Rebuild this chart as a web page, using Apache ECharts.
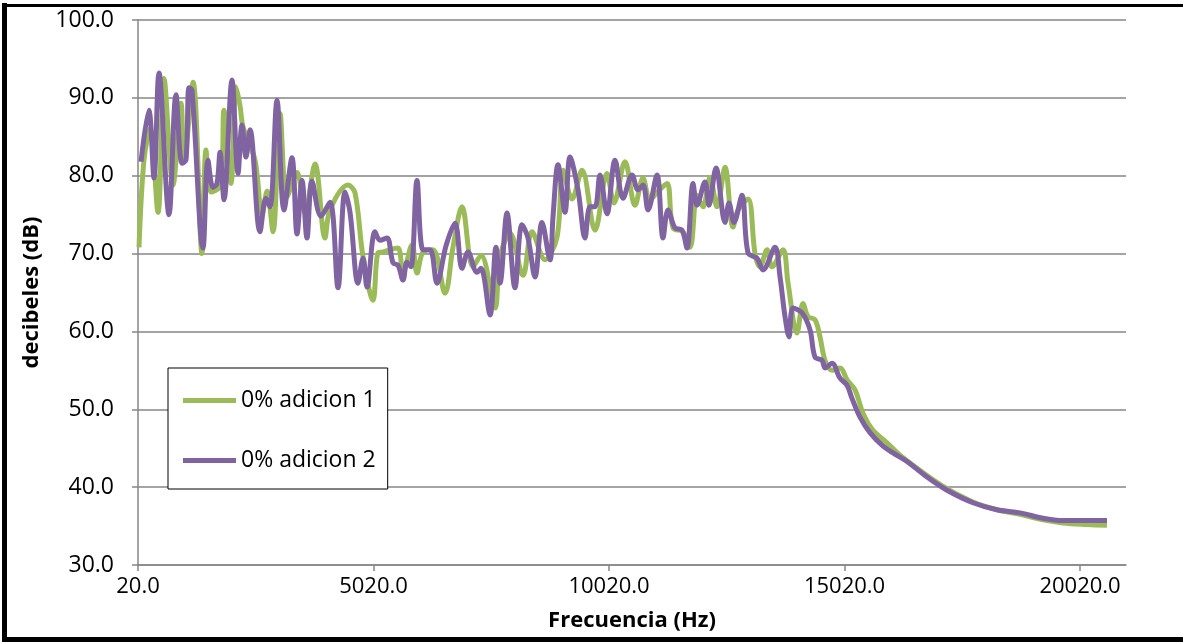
<!DOCTYPE html>
<html>
<head>
<meta charset="utf-8">
<script src="https://cdn.jsdelivr.net/npm/echarts@6/dist/echarts.min.js"></script>
<style>
html,body{margin:0;padding:0;background:#fff;}
#chart{width:1183px;height:642px;}
</style>
</head>
<body>
<div id="chart"></div>
<script>
// ---- Data ----
const seriesNames = ["0% adicion 1", "0% adicion 2"];
const xTickLabels = [20, 5020, 10020, 15020, 20020];

const freqGreen = [41,147,275,445,572,763,933,997,1188,1379,1464,1570,1782,1846,1994,2101,2186,2249,2504,2653,2759,2886,3035,3183,3396,3565,3778,3990,4096,4478,4627,4797,5009,5115,5221,5370,5540,5646,5837,5943,6071,6283,6538,6707,6899,7132,7302,7599,7705,7918,8194,8385,8661,8915,9043,9234,9446,9722,9977,10125,10359,10571,10741,10890,11060,11251,11378,11590,11739,11888,12015,12164,12312,12482,12652,12758,12970,13119,13225,13374,13480,13713,13820,14011,14138,14244,14393,14499,14605,14754,14923,15072,15242,15412,15624,15921,16197,16770,17195,17747,18257,18745,19233,19658,20167,20591];
const dbGreen = [70.8,82,86,75.3,92.5,78.8,89.3,82,92,70,83.3,77.9,78.8,88.4,79,91.4,89,86.3,82,75,78,72.8,88,77.3,80.4,75.2,81.5,72,75.6,78.8,77.8,69.6,64,70.1,70.2,70.5,70.7,67.6,71.1,67.5,70.2,70.5,64.9,70.8,76,68.3,69.8,63,69.6,72.6,67.2,72.8,69.2,72.1,80.7,77,80.7,73,80.3,76.5,81.8,76.2,79.7,76.9,78,79,73.3,72.8,70.8,77.5,76,79.8,76,81.1,73.4,75.6,77,70,68.3,70.5,68.3,70.5,66.2,59.8,63.6,61.9,61.5,59.3,56.3,55,55.3,53.8,52.5,49.5,47.3,45.7,44.1,41.5,39.8,38.1,37.1,36.5,35.8,35.4,35.2,35.1];

const freqPurple = [84,250,360,466,678,827,954,1039,1103,1166,1400,1506,1612,1697,1761,1846,2016,2143,2228,2313,2398,2610,2737,2822,2971,3120,3289,3396,3502,3608,3714,3905,4096,4266,4414,4521,4691,4797,4882,5051,5158,5306,5434,5540,5646,5731,5816,5943,6071,6219,6368,6559,6750,6899,7026,7217,7302,7493,7620,7705,7854,8023,8172,8299,8448,8597,8767,8830,8937,9085,9191,9361,9510,9616,9722,9828,9977,10147,10317,10508,10635,10741,10848,11038,11166,11272,11420,11569,11675,11803,11888,12057,12142,12291,12482,12567,12673,12843,12970,13161,13289,13544,13650,13756,13841,13926,14117,14287,14393,14541,14605,14754,14923,15072,15178,15348,15560,15815,16049,16346,16770,17195,17747,18257,18745,19233,19658,20167,20591];
const dbPurple = [81.8,88.4,79.7,93.2,75.0,90.4,81.6,82,91.3,91,70.7,82,78.5,79,83,76.9,92.3,80.3,86.5,82.4,85.9,72.8,77.1,76,89.7,75.6,82.3,72.5,79.4,72,79.3,74.8,76.6,65.6,77.9,75.3,66.2,69.4,65.7,72.8,71.7,72,68.8,68.5,66.6,68.9,68.3,79.4,70.5,70.5,66.2,71,73.9,68.1,70.2,67.6,68.1,62.1,70.8,66.2,75.2,65.6,73.7,72,67,74,69.2,74.7,81.4,75.3,82.4,78.2,72,76,76,80.1,75.1,82,77.1,80.1,78.2,78.8,75.6,80.1,72,75.6,73.3,73,70.7,79,76.2,79.2,76.2,81,74,76.5,74,77.5,70.1,69.4,67.9,70.8,67,61.9,59.3,63,62.4,60.2,56.7,56.3,55.3,55.9,54,53.1,51.4,49,47,45.4,44.4,43.3,41.3,39.6,38,37.1,36.7,36,35.7,35.7,35.7];

const colorGreen = '#9BBB59';
const colorPurple = '#8064A2';
const gridGray = '#868686';
const FONT = '"Open Sans", sans-serif';

function zip(xs, ys){ return xs.map((x,i)=>[x, ys[i]]); }

const chart = echarts.init(document.getElementById('chart'), null, {renderer:'canvas'});
chart.setOption({
  animation: false,
  backgroundColor: '#fff',
  textStyle: { fontFamily: FONT },
  grid: { left: 138, right: 57, top: 20, bottom: 77, containLabel: false },
  legend: {
    orient: 'vertical',
    left: 168, top: 368,
    padding: [21, 12, 17, 15],
    itemGap: 37,
    itemWidth: 53, itemHeight: 5,
    backgroundColor: '#fff',
    borderColor: '#000', borderWidth: 1,
    textStyle: { fontFamily: FONT, fontSize: 23, color: '#000', padding: [0,0,0,0] },
    data: [
      { name: seriesNames[0], icon: 'rect' },
      { name: seriesNames[1], icon: 'rect' }
    ]
  },
  xAxis: {
    type: 'value',
    min: 20, max: 20995,
    name: 'Frecuencia (Hz)',
    nameLocation: 'middle',
    nameGap: 45,
    nameTextStyle: { fontFamily: FONT, fontSize: 22, fontWeight: 'bold', color: '#000' },
    axisLine: { show: true, lineStyle: { color: gridGray, width: 1.5 } },
    axisTick: { show: true, length: 6, lineStyle: { color: gridGray, width: 1.5 }, customValues: xTickLabels },
    axisLabel: { customValues: xTickLabels, margin: 11, fontFamily: FONT, fontSize: 22, color: '#000',
                 formatter: v => Number(v).toFixed(1) },
    splitLine: { show: false }
  },
  yAxis: {
    type: 'value',
    min: 30, max: 100, interval: 10,
    name: 'decibeles (dB)',
    nameLocation: 'middle',
    nameGap: 95,
    nameRotate: 90,
    nameTextStyle: { fontFamily: FONT, fontSize: 22, fontWeight: 'bold', color: '#000' },
    axisLine: { show: true, lineStyle: { color: gridGray, width: 1.5 } },
    axisTick: { show: true, length: 6, lineStyle: { color: gridGray, width: 1.5 } },
    axisLabel: { margin: 24, fontFamily: FONT, fontSize: 23, color: '#000',
                 formatter: v => Number(v).toFixed(1) },
    splitLine: { show: true, lineStyle: { color: gridGray, width: 1.5 } }
  },
  series: [
    {
      name: seriesNames[0], type: 'line', data: zip(freqGreen, dbGreen),
      showSymbol: false, smooth: 0.35,
      lineStyle: { color: colorGreen, width: 5 }, itemStyle: { color: colorGreen }
    },
    {
      name: seriesNames[1], type: 'line', data: zip(freqPurple, dbPurple),
      showSymbol: false, smooth: 0.35,
      lineStyle: { color: colorPurple, width: 5 }, itemStyle: { color: colorPurple }
    }
  ],
  graphic: [
    { type: 'line', shape: { x1: 4.5, y1: 3, x2: 4.5, y2: 642 }, style: { stroke: '#000', lineWidth: 5 }, z: 100 },
    { type: 'line', shape: { x1: 2, y1: 5.5, x2: 1183, y2: 5.5 }, style: { stroke: '#000', lineWidth: 3 }, z: 100 },
    { type: 'line', shape: { x1: 2, y1: 639.5, x2: 1183, y2: 639.5 }, style: { stroke: '#000', lineWidth: 5 }, z: 100 }
  ]
});
</script>
</body>
</html>
